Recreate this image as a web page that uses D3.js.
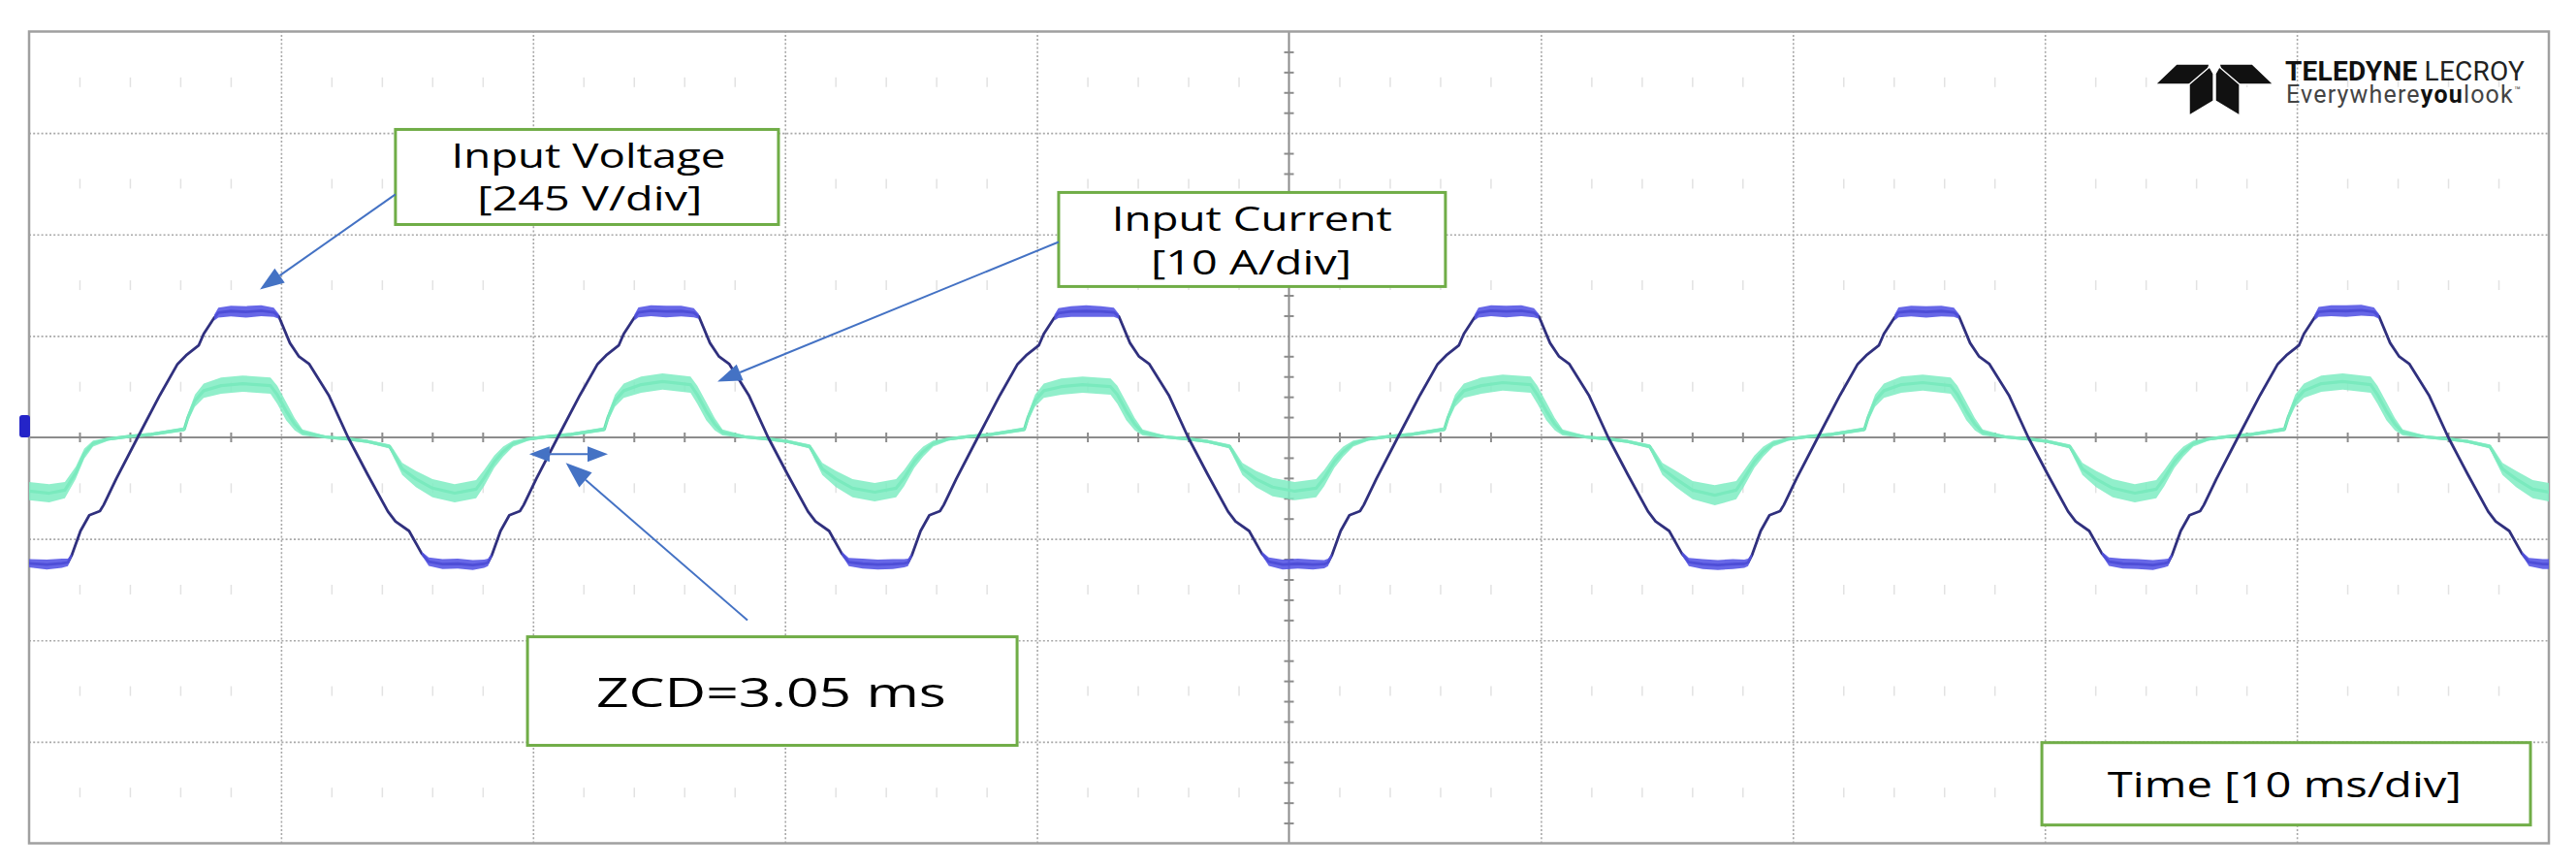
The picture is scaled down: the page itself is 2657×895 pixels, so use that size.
<!DOCTYPE html>
<html><head><meta charset="utf-8">
<script src="https://cdn.jsdelivr.net/npm/d3@7"></script>
<style>html,body{margin:0;padding:0;background:#fff;}svg{display:block;}</style>
</head><body>
<svg id="chart" width="2657" height="895"></svg>
<script>
// ---------------- DATA ----------------
const msPerDiv = 10, voltsPerDiv = 245, ampsPerDiv = 10;
const timeGridMs = [0,10,20,30,40,50,60,70,80,90,100];
const divGrid = [-4,-3,-2,-1,0,1,2,3,4];
const labelVoltage = ["Input Voltage", "[245 V/div]"];
const labelCurrent = ["Input Current", "[10 A/div]"];
const labelZcd = ["ZCD=3.05 ms"];
const labelTime = ["Time [10 ms/div]"];

// Input voltage trace: [time ms, volts, noise half-band volts]
const voltageTrace = [
 [0.00,-304,10],[0.70,-307,12],[1.30,-304,11],
 [1.54,-302,9],[1.69,-285,4],[2.04,-226,2],[2.39,-188,2],[2.81,-178,2],[2.96,-163,2],[3.46,-100,1],[4.31,0,1],[5.19,102,1],[5.89,177,1],[6.23,198,2],[6.73,222,2],[6.93,250,3],[7.35,289,7],[7.51,301,12],[8.01,305,13],[8.61,303,14],[9.21,306,13],[9.71,302,11],[9.91,292,6],[10.35,228,2],[10.70,196,2],[11.12,177,2],[11.89,102,1],[12.66,0,1],[13.43,-89,1],[14.24,-179,2],[14.54,-203,2],[15.08,-226,2],[15.58,-280,4],[15.86,-300,10],[16.41,-306,12],[17.01,-305,12],[17.61,-308,12],[18.06,-305,10],
 [18.21,-302,9],[18.36,-285,4],[18.71,-226,2],[19.06,-188,2],[19.48,-178,2],[19.63,-163,2],[20.13,-100,1],[20.98,0,1],[21.86,102,1],[22.56,177,1],[22.90,198,2],[23.40,222,2],[23.60,250,3],[24.02,289,7],[24.18,302,12],[24.68,306,13],[25.28,304,14],[25.88,305,13],[26.38,301,11],[26.58,292,6],[27.02,228,2],[27.37,196,2],[27.79,177,2],[28.56,102,1],[29.33,0,1],[30.10,-89,1],[30.91,-179,2],[31.21,-203,2],[31.75,-226,2],[32.25,-280,4],[32.53,-301,10],[33.08,-305,12],[33.68,-307,12],[34.28,-306,12],[34.73,-304,10],
 [34.88,-302,9],[35.03,-285,4],[35.38,-226,2],[35.73,-188,2],[36.15,-178,2],[36.30,-163,2],[36.80,-100,1],[37.65,0,1],[38.53,102,1],[39.23,177,1],[39.57,198,2],[40.07,222,2],[40.27,250,3],[40.69,289,7],[40.85,300,12],[41.35,304,13],[41.95,305,14],[42.55,304,13],[43.05,302,11],[43.25,292,6],[43.69,228,2],[44.04,196,2],[44.46,177,2],[45.23,102,1],[46.00,0,1],[46.77,-89,1],[47.58,-179,2],[47.88,-203,2],[48.42,-226,2],[48.92,-280,4],[49.20,-300,10],[49.75,-307,12],[50.35,-305,12],[50.95,-307,12],[51.40,-306,10],
 [51.55,-302,9],[51.70,-285,4],[52.05,-226,2],[52.40,-188,2],[52.82,-178,2],[52.97,-163,2],[53.47,-100,1],[54.32,0,1],[55.20,102,1],[55.90,177,1],[56.24,198,2],[56.74,222,2],[56.94,250,3],[57.36,289,7],[57.52,301,12],[58.02,306,13],[58.62,304,14],[59.22,306,13],[59.72,301,11],[59.92,292,6],[60.36,228,2],[60.71,196,2],[61.13,177,2],[61.90,102,1],[62.67,0,1],[63.44,-89,1],[64.25,-179,2],[64.55,-203,2],[65.09,-226,2],[65.59,-280,4],[65.87,-301,10],[66.42,-306,12],[67.02,-308,12],[67.62,-306,12],[68.07,-305,10],
 [68.22,-302,9],[68.37,-285,4],[68.72,-226,2],[69.07,-188,2],[69.49,-178,2],[69.64,-163,2],[70.14,-100,1],[70.99,0,1],[71.87,102,1],[72.57,177,1],[72.91,198,2],[73.41,222,2],[73.61,250,3],[74.03,289,7],[74.19,302,12],[74.69,305,13],[75.29,303,14],[75.89,305,13],[76.39,302,11],[76.59,292,6],[77.03,228,2],[77.38,196,2],[77.80,177,2],[78.57,102,1],[79.34,0,1],[80.11,-89,1],[80.92,-179,2],[81.22,-203,2],[81.76,-226,2],[82.26,-280,4],[82.54,-300,10],[83.09,-305,12],[83.69,-306,12],[84.29,-308,12],[84.74,-304,10],
 [84.89,-302,9],[85.04,-285,4],[85.39,-226,2],[85.74,-188,2],[86.16,-178,2],[86.31,-163,2],[86.81,-100,1],[87.66,0,1],[88.54,102,1],[89.24,177,1],[89.58,198,2],[90.08,222,2],[90.28,250,3],[90.70,289,7],[90.86,303,12],[91.36,306,13],[91.96,305,14],[92.56,307,13],[93.06,303,11],[93.26,292,6],[93.70,228,2],[94.05,196,2],[94.47,177,2],[95.24,102,1],[96.01,0,1],[96.78,-89,1],[97.59,-179,2],[97.89,-203,2],[98.43,-226,2],[98.93,-280,4],[99.21,-301,10],[99.76,-306,12],[100.00,-306,12]
];

// Input current trace: [time ms, amps, noise half-band amps]
const currentTrace = [
 [0.00,-5.3,0.9],[0.80,-5.5,0.9],[1.42,-5.2,0.8],[1.85,-3.5,0.6],[2.19,-1.6,0.5],[2.54,-0.6,0.3],
 [3.16,-0.15,0.15],[4.00,0.1,0.15],[4.85,0.3,0.15],[6.16,0.8,0.2],[6.31,2.0,0.4],[6.58,3.6,0.6],[6.93,4.6,0.7],[7.62,5.1,0.8],[8.47,5.3,0.8],[9.58,5.1,0.8],[9.85,4.2,0.9],[10.20,2.6,0.9],[10.54,1.3,0.6],[10.85,0.5,0.3],[11.74,0.05,0.15],[12.66,-0.15,0.15],[13.43,-0.4,0.15],[14.31,-0.9,0.2],[14.47,-1.6,0.4],[14.81,-3.1,0.6],[15.35,-4.1,0.8],[16.01,-5.0,0.9],[16.89,-5.5,0.9],[17.74,-5.1,0.9],[18.06,-4.0,0.8],[18.46,-2.4,0.6],[18.81,-1.4,0.5],[19.21,-0.6,0.3],
 [19.83,-0.15,0.15],[20.67,0.1,0.15],[21.52,0.3,0.15],[22.83,0.8,0.2],[22.98,2.0,0.4],[23.25,3.6,0.6],[23.60,4.6,0.7],[24.29,5.2,0.8],[25.14,5.5,0.8],[26.25,5.2,0.8],[26.52,4.2,0.9],[26.87,2.6,0.9],[27.21,1.3,0.6],[27.52,0.5,0.3],[28.41,0.05,0.15],[29.33,-0.15,0.15],[30.10,-0.4,0.15],[30.98,-0.9,0.2],[31.14,-1.6,0.4],[31.48,-3.1,0.6],[32.02,-4.1,0.8],[32.68,-5.0,0.9],[33.56,-5.4,0.9],[34.41,-5.0,0.9],[34.73,-4.0,0.8],[35.13,-2.4,0.6],[35.48,-1.4,0.5],[35.88,-0.6,0.3],
 [36.50,-0.15,0.15],[37.34,0.1,0.15],[38.19,0.3,0.15],[39.50,0.8,0.2],[39.65,2.0,0.4],[39.92,3.6,0.6],[40.27,4.6,0.7],[40.96,5.0,0.8],[41.81,5.2,0.8],[42.92,5.0,0.8],[43.19,4.2,0.9],[43.54,2.6,0.9],[43.88,1.3,0.6],[44.19,0.5,0.3],[45.08,0.05,0.15],[46.00,-0.15,0.15],[46.77,-0.4,0.15],[47.65,-0.9,0.2],[47.81,-1.6,0.4],[48.15,-3.1,0.6],[48.69,-4.1,0.8],[49.35,-4.9,0.9],[50.23,-5.3,0.9],[51.08,-5.0,0.9],[51.40,-4.0,0.8],[51.80,-2.4,0.6],[52.15,-1.4,0.5],[52.55,-0.6,0.3],
 [53.17,-0.15,0.15],[54.01,0.1,0.15],[54.86,0.3,0.15],[56.17,0.8,0.2],[56.32,2.0,0.4],[56.59,3.6,0.6],[56.94,4.6,0.7],[57.63,5.1,0.8],[58.48,5.4,0.8],[59.59,5.2,0.8],[59.86,4.2,0.9],[60.21,2.6,0.9],[60.55,1.3,0.6],[60.86,0.5,0.3],[61.75,0.05,0.15],[62.67,-0.15,0.15],[63.44,-0.4,0.15],[64.32,-0.9,0.2],[64.48,-1.6,0.4],[64.82,-3.1,0.6],[65.36,-4.1,0.8],[66.02,-5.2,0.9],[66.90,-5.7,1.0],[67.75,-5.2,0.9],[68.07,-4.0,0.8],[68.47,-2.4,0.6],[68.82,-1.4,0.5],[69.22,-0.6,0.3],
 [69.84,-0.15,0.15],[70.68,0.1,0.15],[71.53,0.3,0.15],[72.84,0.8,0.2],[72.99,2.0,0.4],[73.26,3.6,0.6],[73.61,4.6,0.7],[74.30,5.2,0.8],[75.15,5.4,0.8],[76.26,5.1,0.8],[76.53,4.2,0.9],[76.88,2.6,0.9],[77.22,1.3,0.6],[77.53,0.5,0.3],[78.42,0.05,0.15],[79.34,-0.15,0.15],[80.11,-0.4,0.15],[80.99,-0.9,0.2],[81.15,-1.6,0.4],[81.49,-3.1,0.6],[82.03,-4.1,0.8],[82.69,-5.0,0.9],[83.57,-5.5,0.9],[84.42,-5.1,0.9],[84.74,-4.0,0.8],[85.14,-2.4,0.6],[85.49,-1.4,0.5],[85.89,-0.6,0.3],
 [86.51,-0.15,0.15],[87.35,0.1,0.15],[88.20,0.3,0.15],[89.51,0.8,0.2],[89.66,2.0,0.4],[89.93,3.6,0.6],[90.28,4.6,0.7],[90.97,5.3,0.8],[91.82,5.5,0.8],[92.93,5.2,0.8],[93.20,4.2,0.9],[93.55,2.6,0.9],[93.89,1.3,0.6],[94.20,0.5,0.3],[95.09,0.05,0.15],[96.01,-0.15,0.15],[96.78,-0.4,0.15],[97.66,-0.9,0.2],[97.82,-1.6,0.4],[98.16,-3.1,0.6],[98.70,-4.1,0.8],[99.36,-5.1,0.9],[100.00,-5.4,0.9]
];

// ---------------- LAYOUT ----------------
const W = 2657, H = 895;
const plot = {left: 30, right: 2629, top: 32.5, bottom: 869.5};
const svg = d3.select('#chart');

const x = d3.scaleLinear().domain([timeGridMs[0], timeGridMs[timeGridMs.length-1]]).range([plot.left, plot.right]);
const yDiv = d3.scaleLinear().domain([divGrid[0], divGrid[divGrid.length-1]]).range([plot.bottom, plot.top]);
const yV = d3.scaleLinear().domain([divGrid[0]*voltsPerDiv, divGrid[divGrid.length-1]*voltsPerDiv]).range([plot.bottom, plot.top]);
const yI = d3.scaleLinear().domain([divGrid[0]*ampsPerDiv, divGrid[divGrid.length-1]*ampsPerDiv]).range([plot.bottom, plot.top]);
const plotW = plot.right - plot.left, plotH = plot.bottom - plot.top;
const midT = (timeGridMs[0] + timeGridMs[timeGridMs.length-1]) / 2;

svg.append('rect').attr('width', W).attr('height', H).attr('fill', '#fff');

// faint minor tick rows (mid-division)
const minorT = d3.range(2, 100, 2).filter(t => t % 10 !== 0);
[-3.5,-2.5,-1.5,-0.5,0.5,1.5,2.5,3.5].forEach(d => {
  const g = svg.append('g').attr('transform', `translate(0,${yDiv(d) - 5})`)
    .call(d3.axisBottom(x).tickValues(minorT).tickSize(10).tickFormat(''));
  g.select('.domain').remove();
  g.selectAll('line').attr('stroke', '#e2e2e2').attr('stroke-width', 1.5);
});

// dotted grid
const gv = svg.append('g').attr('transform', `translate(0,${plot.bottom})`)
  .call(d3.axisBottom(x).tickValues(timeGridMs.filter(t => t > 0 && t < 100 && t !== midT)).tickSize(-plotH).tickFormat(''));
gv.select('.domain').remove();
gv.selectAll('line').attr('stroke', '#a8a8a8').attr('stroke-width', 1.6).attr('stroke-dasharray', '2,2.2');
const gh = svg.append('g').attr('transform', `translate(${plot.left},0)`)
  .call(d3.axisLeft(yDiv).tickValues(divGrid.filter(d => d !== 0 && Math.abs(d) < 4)).tickSize(-plotW).tickFormat(''));
gh.select('.domain').remove();
gh.selectAll('line').attr('stroke', '#a8a8a8').attr('stroke-width', 1.6).attr('stroke-dasharray', '2,2.2');

// centre axes with minor ticks
svg.append('line').attr('x1', plot.left).attr('x2', plot.right).attr('y1', yDiv(0)).attr('y2', yDiv(0))
  .attr('stroke', '#8c8c8c').attr('stroke-width', 2);
svg.append('line').attr('x1', x(midT)).attr('x2', x(midT)).attr('y1', plot.top).attr('y2', plot.bottom)
  .attr('stroke', '#8c8c8c').attr('stroke-width', 2);
const ct = svg.append('g').attr('transform', `translate(0,${yDiv(0) - 5})`)
  .call(d3.axisBottom(x).tickValues(minorT).tickSize(10).tickFormat(''));
ct.select('.domain').remove();
ct.selectAll('line').attr('stroke', '#8c8c8c').attr('stroke-width', 2);
const minorD = d3.range(-3.8, 4, 0.2).map(v => Math.round(v * 10) / 10).filter(v => Math.abs(v - Math.round(v)) > 0.01);
const cv = svg.append('g').attr('transform', `translate(${x(midT) - 5},0)`)
  .call(d3.axisRight(yDiv).tickValues(minorD).tickSize(10).tickFormat(''));
cv.select('.domain').remove();
cv.selectAll('line').attr('stroke', '#8c8c8c').attr('stroke-width', 2);

// frame
svg.append('rect').attr('x', plot.left).attr('y', plot.top).attr('width', plotW).attr('height', plotH)
  .attr('fill', 'none').attr('stroke', '#a0a0a0').attr('stroke-width', 2.5);

// channel marker at left
svg.append('rect').attr('x', plot.left - 10).attr('y', yDiv(0.22)).attr('width', 11).attr('height', yDiv(0) - yDiv(0.22))
  .attr('rx', 3).attr('fill', '#2424c8');

// clip
svg.append('clipPath').attr('id', 'clip').append('rect')
  .attr('x', plot.left).attr('y', plot.top).attr('width', plotW).attr('height', plotH);
const traces = svg.append('g').attr('clip-path', 'url(#clip)');

// current
const iBand = d3.area().x(d => x(d[0])).y0(d => yI(d[1] - d[2])).y1(d => yI(d[1] + d[2]));
const iLine = d3.line().x(d => x(d[0])).y(d => yI(d[1]));
traces.append('path').datum(currentTrace).attr('d', iLine).attr('fill', 'none')
  .attr('stroke', '#66dcaa').attr('stroke-width', 3.2).attr('stroke-linejoin', 'round');
traces.append('path').datum(currentTrace).attr('d', iBand).attr('fill', '#7eecc2').attr('opacity', 0.85);

// voltage
const vBand = d3.area().x(d => x(d[0])).y0(d => yV(d[1] - d[2])).y1(d => yV(d[1] + d[2]));
const vLine = d3.line().x(d => x(d[0])).y(d => yV(d[1]));
traces.append('path').datum(voltageTrace).attr('d', vLine).attr('fill', 'none')
  .attr('stroke', '#30307e').attr('stroke-width', 2.8).attr('stroke-linejoin', 'round');
const plateaus = [];
let cur = [];
voltageTrace.forEach(d => { if (d[2] >= 4) cur.push(d); else { if (cur.length > 1) plateaus.push(cur); cur = []; } });
if (cur.length > 1) plateaus.push(cur);
plateaus.forEach(seg => traces.append('path').datum(seg).attr('d', vBand).attr('fill', '#5252e4').attr('opacity', 0.88));

// ---------------- ANNOTATIONS ----------------
const green = '#70ad47', blue = '#4472c4';
const font = "'Open Sans', 'Noto Sans', sans-serif";

function box(t0, t1, d0, d1) {
  svg.append('rect').attr('x', x(t0)).attr('y', yDiv(d0)).attr('width', x(t1) - x(t0)).attr('height', yDiv(d1) - yDiv(d0))
    .attr('fill', '#fff').attr('stroke', green).attr('stroke-width', 3);
}
function label(str, tc, dBase, width, size) {
  svg.append('text').attr('x', x(tc) - width / 2).attr('y', yDiv(dBase))
    .attr('textLength', width).attr('lengthAdjust', 'spacingAndGlyphs')
    .attr('font-family', font).attr('font-size', size).attr('fill', '#000').text(str);
}
function tri(x2, y2, a, len, half) {
  const bx = x2 - len * Math.cos(a), by = y2 - len * Math.sin(a);
  const p = [[x2, y2], [bx + half * Math.sin(a), by - half * Math.cos(a)], [bx - half * Math.sin(a), by + half * Math.cos(a)]];
  svg.append('polygon').attr('points', p.map(q => q.join(',')).join(' ')).attr('fill', blue);
  return [bx, by];
}
function arrow(from, to, len, half) {
  const x1 = x(from[0]), y1 = yDiv(from[1]), x2 = x(to[0]), y2 = yDiv(to[1]);
  const a = Math.atan2(y2 - y1, x2 - x1);
  const b = tri(x2, y2, a, len, half);
  svg.append('line').attr('x1', x1).attr('y1', y1).attr('x2', b[0]).attr('y2', b[1])
    .attr('stroke', blue).attr('stroke-width', 2);
}

box(14.54, 29.74, 3.035, 2.098);
label(labelVoltage[0], 22.2, 2.653, 283, 35);
label(labelVoltage[1], 22.25, 2.232, 232, 35);
arrow([14.54, 2.395], [9.16, 1.458], 25, 9);

box(40.86, 56.21, 2.414, 1.487);
label(labelCurrent[0], 48.53, 2.04, 289, 35);
label(labelCurrent[1], 48.5, 1.601, 207, 35);
arrow([40.86, 1.926], [27.32, 0.55], 25, 9);

box(19.78, 39.21, -1.965, -3.035);
label(labelZcd[0], 29.45, -2.653, 361, 42);
arrow([28.51, -1.802], [21.3, -0.25], 27, 10);
const dY = -0.164;
svg.append('line').attr('x1', x(19.85) + 18).attr('x2', x(22.97) - 18).attr('y1', yDiv(dY)).attr('y2', yDiv(dY))
  .attr('stroke', blue).attr('stroke-width', 2);
tri(x(19.85), yDiv(dY), Math.PI, 21, 8);
tri(x(22.97), yDiv(dY), 0, 21, 8);

box(79.88, 99.27, -3.008, -3.82);
label(labelTime[0], 89.51, -3.55, 365, 36);

// ---------------- LOGO ----------------
const logo = svg.append('g').attr('transform', `translate(${x(84.38)},${yDiv(3.68)})`);
const logoShapes = [
  [[0,21],[22,0],[56,0],[50,21]],
  [[122,21],[100,0],[66,0],[72,21]],
  [[35,21],[56,3],[60,10],[60,38],[35,53]],
  [[87,21],[66,3],[62,10],[62,38],[87,53]]
];
logoShapes.forEach(s => logo.append('polygon').attr('points', s.map(q => q.join(',')).join(' '))
  .attr('fill', '#111').attr('stroke', '#fff').attr('stroke-width', 1.4));

// both logo lines in one text element; letter-spacing fitted to the measured widths
const lf = "Roboto, 'Liberation Sans', sans-serif";
const logoLines = [
  {x: 2357, y: 83, size: 28, width: 247, parts: [['TELEDYNE', 700, '#111', 28], [' LECROY', 400, '#222', 28]]},
  {x: 2358, y: 106, size: 25, width: 243, parts: [['Everywhere', 400, '#444', 25], ['you', 700, '#111', 25], ['look', 400, '#444', 25], ['™', 400, '#444', 11]]}
];
const lt = svg.append('text').attr('font-family', lf);
logoLines.forEach(line => {
  // measure natural width with a temporary element
  const tmp = svg.append('text').attr('font-family', lf).attr('x', 0).attr('y', -100);
  line.parts.forEach(p => tmp.append('tspan').attr('font-weight', p[1]).attr('font-size', p[3]).text(p[0]));
  const natural = tmp.node().getComputedTextLength();
  tmp.remove();
  const nChars = line.parts.reduce((s, p) => s + p[0].length, 0);
  const ls = (line.width - natural) / nChars;
  line.parts.forEach((p, i) => {
    const ts = lt.append('tspan').attr('font-weight', p[1]).attr('font-size', p[3]).attr('fill', p[2])
      .attr('letter-spacing', ls).text(p[0]);
    if (i === 0) ts.attr('x', line.x).attr('y', line.y);
    if (p[0] === '™') ts.attr('dy', -9);
  });
});
</script>
</body></html>
